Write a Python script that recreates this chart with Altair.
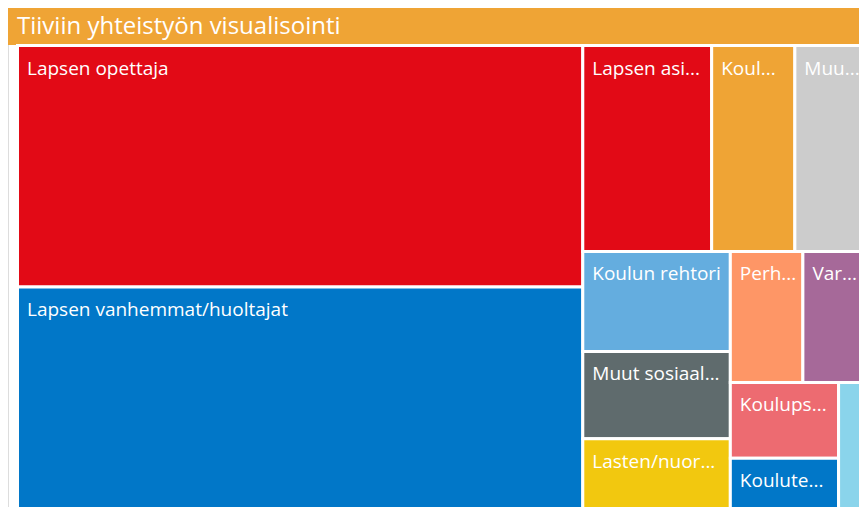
import altair as alt
import pandas as pd

# ---- data -------------------------------------------------------------
title_text = "Tiiviin yhteistyön visualisointi"

names = [
    "Lapsen opettaja",
    "Lapsen vanhemmat/huoltajat",
    "Lapsen asioista vastaava sosiaalityöntekijä",
    "Koulukuraattori",
    "Muu henkilö",
    "Koulun rehtori",
    "Muut sosiaalityöntekijät",
    "Lasten/nuorisopsykiatria",
    "Perheneuvola",
    "Varhaiskasvatus",
    "Koulupsykologi",
    "Kouluterveydenhoitaja",
    "Erityisopettaja",
]
# labels as they are displayed in the tiles (truncated by the visual)
shown = [
    "Lapsen opettaja",
    "Lapsen vanhemmat/huoltajat",
    "Lapsen asi...",
    "Koul...",
    "Muu...",
    "Koulun rehtori",
    "Muut sosiaal...",
    "Lasten/nuor...",
    "Perh...",
    "Var...",
    "Koulups...",
    "Koulute...",
    "",
]
values = [1379, 1333, 268, 173, 155, 149, 130, 122, 96, 88, 83, 68, 43]
colors = [
    "#E20A16", "#0177C8", "#E20A16", "#EFA435", "#CCCCCC", "#64ADDF",
    "#5F6B6D", "#F2C80F", "#FE9666", "#A66999", "#ED6B71", "#0177C8", "#8AD4EB",
]

# ---- squarified treemap layout (d3 style) ------------------------------
PHI = (1 + 5 ** 0.5) / 2
TREE_W, TREE_H = 860.0, 475.0


def squarify(vals, x0, y0, x1, y1, ratio=PHI):
    out = [None] * len(vals)
    n = len(vals)
    i0 = i1 = 0
    total = float(sum(vals))
    while i0 < n:
        dx, dy = x1 - x0, y1 - y0
        s = vals[i1]
        i1 += 1
        mn = mx = s
        alpha = max(dy / dx, dx / dy) / (total * ratio)
        beta = s * s * alpha
        min_ratio = max(mx / beta, beta / mn)
        while i1 < n:
            v = vals[i1]
            s += v
            mn2, mx2 = min(mn, v), max(mx, v)
            beta = s * s * alpha
            new_ratio = max(mx2 / beta, beta / mn2)
            if new_ratio > min_ratio:
                s -= v
                break
            mn, mx = mn2, mx2
            min_ratio = new_ratio
            i1 += 1
        if dx < dy:
            ny = y0 + dy * s / total
            xx = x0
            for k in range(i0, i1):
                w = dx * vals[k] / s
                out[k] = (xx, y0, xx + w, ny)
                xx += w
            y0 = ny
        else:
            nx = x0 + dx * s / total
            yy = y0
            for k in range(i0, i1):
                h = dy * vals[k] / s
                out[k] = (x0, yy, nx, yy + h)
                yy += h
            x0 = nx
        total -= s
        i0 = i1
    return out


rects = squarify(values, 0.0, 0.0, TREE_W, TREE_H)
df = pd.DataFrame({
    "name": names,
    "label": shown,
    "value": values,
    "x0": [r[0] for r in rects],
    "y0": [r[1] for r in rects],
    "x1": [r[2] for r in rects],
    "y1": [r[3] for r in rects],
})

FONT = "Segoe UI, Open Sans, sans-serif"
W, H = 851, 499
X_VISIBLE = 849.5            # part of the treemap that is in view
LEFT_PAD = 9.5
x_lo = -LEFT_PAD * X_VISIBLE / (W - LEFT_PAD)
xs = alt.Scale(domain=[x_lo, X_VISIBLE], range=[0, W], nice=False, zero=False)
ys = alt.Scale(domain=[-37.5, H - 37.5], range=[0, H], nice=False, zero=False)

title_bar = alt.Chart(alt.Data(values=[{"t": title_text}])).mark_rect(
    color="#EFA435"
).encode(
    x=alt.value(0), x2=alt.value(W), y=alt.value(0), y2=alt.value(37)
)

title_lbl = alt.Chart(alt.Data(values=[{"t": title_text}])).mark_text(
    align="left", baseline="alphabetic", font=FONT, fontSize=24, color="white"
).encode(
    x=alt.value(9), y=alt.value(25.5), text="t:N"
)

tiles = alt.Chart(df).mark_rect(
    stroke="white", strokeWidth=3, clip=True
).encode(
    x=alt.X("x0:Q", scale=xs, axis=None),
    x2="x1:Q",
    y=alt.Y("y0:Q", scale=ys, axis=None),
    y2="y1:Q",
    color=alt.Color("name:N", scale=alt.Scale(domain=names, range=colors), legend=None),
    tooltip=["name:N", "value:Q"],
)

labels = alt.Chart(df).transform_filter(
    "datum.label != ''"
).mark_text(
    align="left", baseline="alphabetic", font=FONT, fontSize=19,
    color="white", dx=9.5, dy=29, clip=True, ellipsis="...",
    limit=alt.expr("datum.x1 - datum.x0 - 12"),
).encode(
    x=alt.X("x0:Q", scale=xs, axis=None),
    y=alt.Y("y0:Q", scale=ys, axis=None),
    text="label:N",
)

chart = alt.layer(title_bar, title_lbl, tiles, labels).properties(
    width=W, height=H,
    autosize=alt.AutoSizeParams(type="none"),
    padding=0,
).configure_view(strokeWidth=0).configure(background="white")

chart.save("out.html", embed_options={"renderer": "svg", "actions": False})
